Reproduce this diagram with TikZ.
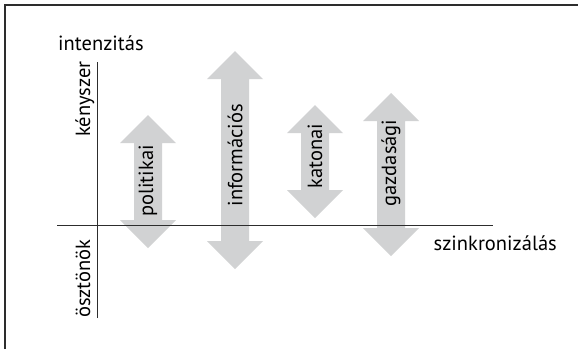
\documentclass[tikz,border=0pt]{standalone}
\usepackage{fontspec}
\setmainfont{PT Sans}
\definecolor{arrowgray}{RGB}{209,210,211}
\definecolor{linegray}{RGB}{45,45,45}
\newcommand{\dblarr}[3]{%
  \fill[arrowgray] (#1,#2) -- ({#1+28},{#2+28}) -- ({#1+14},{#2+28}) -- ({#1+14},{#3-28})
    -- ({#1+28},{#3-28}) -- (#1,#3) -- ({#1-28},{#3-28}) -- ({#1-14},{#3-28})
    -- ({#1-14},{#2+28}) -- ({#1-28},{#2+28}) -- cycle;}
\begin{document}
\begin{tikzpicture}[x=1pt,y=-1pt,
  lbl/.style={inner sep=0pt,font=\fontsize{20.5}{24}\selectfont,text=black},
  vlbl/.style={lbl,rotate=90}]
\useasboundingbox (0,0) rectangle (578,349);
\fill[white] (0,0) rectangle (578,349);
% frame
\draw[linegray,line width=1.3pt] (5,349) -- (5,5) -- (578,5);
% arrows
\dblarr{148}{115}{248}
\dblarr{235}{51}{269}
\dblarr{315}{105}{218}
\dblarr{391}{93}{256}
% axes
\coordinate (yb) at (97.5,318);
\coordinate (yt) at (97.5,62);
\coordinate (xl) at (57,225);
\coordinate (xr) at (493,225);
\draw[linegray,line width=0.9pt] (yb) -- (yt);
\draw[linegray,line width=0.9pt] (xl) -- (xr);
% axis labels
\node[lbl,anchor=base west] (int) at (58,50) {intenzitás};
\node[lbl,anchor=base east] (szi) at (557,250) {szinkronizálás};
\node[vlbl,anchor=base east] (ken) at (90,61) {kényszer};
\node[vlbl,anchor=base west] (osz) at (90,318) {ösztönök};
% arrow labels
\node[vlbl] (pol) at (148,181) {politikai};
\node[vlbl] (inf) at (235,155) {információs};
\node[vlbl] (kat) at (315,156) {katonai};
\node[vlbl] (gaz) at (391,163) {gazdasági};
\end{tikzpicture}
\end{document}
